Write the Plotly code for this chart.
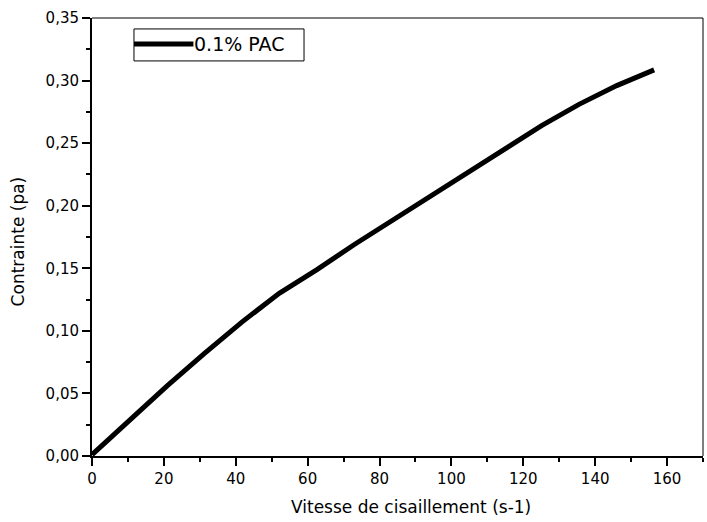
import plotly.graph_objects as go

# Shear rate (s-1) and shear stress (Pa) for the 0.1% PAC solution
shear_rate = [0.0, 10.4, 20.9, 31.3, 41.7, 52.1, 62.6, 73.0, 83.4, 93.8,
              104.3, 114.7, 125.1, 135.5, 146.0, 156.4]
stress = [0.001, 0.029, 0.056, 0.082, 0.107, 0.130, 0.149, 0.169, 0.188, 0.207,
          0.226, 0.245, 0.264, 0.281, 0.296, 0.3085]
series_name = "0.1% PAC"
x_title = "Vitesse de cisaillement (s-1)"
y_title = "Contrainte (pa)"

x_ticks = [0, 20, 40, 60, 80, 100, 120, 140, 160]
y_ticks = [0.0, 0.05, 0.10, 0.15, 0.20, 0.25, 0.30, 0.35]

FONT = "DejaVu Sans, Arial, sans-serif"

fig = go.Figure()
fig.add_trace(go.Scatter(
    x=shear_rate, y=stress, mode="lines", name=series_name,
    line=dict(color="black", width=5), showlegend=False,
))

fig.update_layout(
    width=707, height=522,
    margin=dict(l=92, r=4, t=18, b=66),
    paper_bgcolor="white", plot_bgcolor="white",
    separators=", ",
    font=dict(family=FONT, size=15, color="black"),
    xaxis=dict(
        range=[0, 170], tickvals=x_ticks, showgrid=False, zeroline=False,
        showline=True, linecolor="black", linewidth=2,
        ticks="outside", ticklen=8, tickwidth=2, tickcolor="black",
        minor=dict(ticks="outside", ticklen=4, tickwidth=2, dtick=10,
                   tickcolor="black", showgrid=False),
        tickfont=dict(size=15),
    ),
    yaxis=dict(
        range=[0, 0.35], tickvals=y_ticks, tickformat=".2f", showgrid=False, zeroline=False,
        showline=True, linecolor="black", linewidth=2,
        ticks="outside", ticklen=8, tickwidth=2, tickcolor="black",
        minor=dict(ticks="outside", ticklen=4, tickwidth=2, dtick=0.025,
                   tickcolor="black", showgrid=False),
        tickfont=dict(size=15),
    ),
)

# Axis titles
fig.add_annotation(xref="paper", yref="paper", x=0.522, y=-0.1164,
                   text=x_title, showarrow=False, xanchor="center", yanchor="middle",
                   font=dict(family=FONT, size=17, color="black"))
fig.add_annotation(xref="paper", yref="paper", x=-0.1211, y=0.49,
                   text=y_title, showarrow=False, textangle=-90,
                   xanchor="center", yanchor="middle",
                   font=dict(family=FONT, size=17, color="black"))

# Thin frame on the top and right sides of the plot area
fig.add_shape(type="line", xref="paper", yref="paper", x0=0, x1=1, y0=1, y1=1,
              line=dict(color="black", width=1))
fig.add_shape(type="line", xref="paper", yref="paper", x0=1, x1=1, y0=0, y1=1,
              line=dict(color="black", width=1))

# Legend box with line sample and label
fig.add_shape(type="rect", xref="paper", yref="paper",
              x0=0.0687, x1=0.347, y0=0.902, y1=0.975,
              line=dict(color="black", width=1), fillcolor="white")
fig.add_shape(type="line", xref="paper", yref="paper",
              x0=0.0687, x1=0.166, y0=0.9406, y1=0.9406,
              line=dict(color="black", width=5))
fig.add_annotation(xref="paper", yref="paper", x=0.164, y=0.9406,
                   text=series_name, showarrow=False, xanchor="left", yanchor="middle",
                   font=dict(family=FONT, size=19, color="black"))

fig.write_html("out.html")
